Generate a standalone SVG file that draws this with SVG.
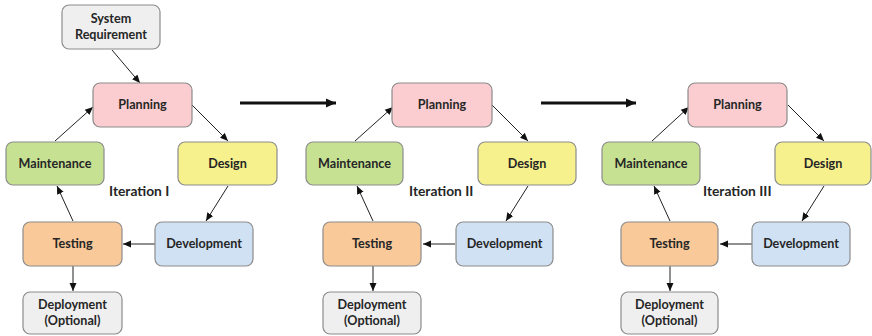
<svg xmlns="http://www.w3.org/2000/svg" width="872" height="336" viewBox="0 0 872 336">
<style>
.box{stroke:#8c8c8c;stroke-width:1.2}
.grey{fill:#efefef}
.pink{fill:#fbcdd0}
.green{fill:#c6e192}
.yellow{fill:#f6f18c}
.orange{fill:#f9c999}
.blue{fill:#d0e1f3}
text{font-family:Lato,"Open Sans","Liberation Sans",sans-serif;font-weight:bold;font-size:12.6px;fill:#262626;text-anchor:middle}
.lbl{font-size:13.8px;text-anchor:start}
.c{stroke:#222;stroke-width:1;fill:none;marker-end:url(#ah)}
.big{stroke:#111;stroke-width:3;fill:none;marker-end:url(#bh)}
</style>
<defs>
<marker id="ah" markerUnits="userSpaceOnUse" markerWidth="9" markerHeight="8" refX="8" refY="4" orient="auto">
<path d="M0,0.5 L8,4 L0,7.5 Z" fill="#111"/>
</marker>
<marker id="bh" markerUnits="userSpaceOnUse" markerWidth="11" markerHeight="10" refX="10" refY="5" orient="auto">
<path d="M0,0.5 L10,5 L0,9.5 Z" fill="#111"/>
</marker>
</defs>
<rect width="872" height="336" fill="#ffffff"/>

<g id="connectors">
<path class="c" d="M112,50 L140,83"/>
<path class="c" d="M192,105 L228,141"/>
<path class="c" d="M228,186 L206,221"/>
<path class="c" d="M155,244 L123,244"/>
<path class="c" d="M73,221 L57,186"/>
<path class="c" d="M55,141 L93,107"/>
<path class="c" d="M73,266 L73,291"/>

<path class="c" d="M492,105 L528,141"/>
<path class="c" d="M528,186 L506,221"/>
<path class="c" d="M455,244 L423,244"/>
<path class="c" d="M373,221 L357,186"/>
<path class="c" d="M355,141 L393,107"/>
<path class="c" d="M373,266 L373,291"/>

<path class="c" d="M788,105 L824,141"/>
<path class="c" d="M824,186 L802,221"/>
<path class="c" d="M752,244 L720,244"/>
<path class="c" d="M670,221 L654,186"/>
<path class="c" d="M652,141 L689,107"/>
<path class="c" d="M670,266 L670,291"/>

<path class="big" d="M240,103 L336,103"/>
<path class="big" d="M541,103 L636,103"/>
</g>

<g id="sysreq"><rect class="box grey" x="62" y="5" width="98" height="44" rx="7"/><text x="111" y="23">System</text><text x="111" y="39">Requirement</text></g>

<g id="planning-1"><rect class="box pink" x="93" y="83" width="99" height="44" rx="7"/><text x="142.5" y="109">Planning</text></g>
<g id="maintenance-1"><rect class="box green" x="6" y="142" width="98" height="43" rx="7"/><text x="55" y="167.5">Maintenance</text></g>
<g id="design-1"><rect class="box yellow" x="178" y="142" width="99" height="43" rx="7"/><text x="227.5" y="167.5">Design</text></g>
<g id="testing-1"><rect class="box orange" x="23" y="222" width="99" height="44" rx="7"/><text x="72.5" y="248">Testing</text></g>
<g id="development-1"><rect class="box blue" x="155" y="222" width="98" height="44" rx="7"/><text x="204" y="248">Development</text></g>
<g id="deployment-1"><rect class="box grey" x="23" y="292" width="99" height="42" rx="7"/><text x="72.5" y="309">Deployment</text><text x="72.5" y="325">(Optional)</text></g>
<g id="iteration-1"><text class="lbl" x="109" y="196">Iteration I</text></g>

<g id="planning-2"><rect class="box pink" x="392" y="83" width="100" height="44" rx="7"/><text x="442" y="109">Planning</text></g>
<g id="maintenance-2"><rect class="box green" x="306" y="142" width="97" height="43" rx="7"/><text x="354.5" y="167.5">Maintenance</text></g>
<g id="design-2"><rect class="box yellow" x="478" y="142" width="98" height="43" rx="7"/><text x="527" y="167.5">Design</text></g>
<g id="testing-2"><rect class="box orange" x="323" y="222" width="98" height="44" rx="7"/><text x="372" y="248">Testing</text></g>
<g id="development-2"><rect class="box blue" x="456" y="222" width="97" height="44" rx="7"/><text x="504.5" y="248">Development</text></g>
<g id="deployment-2"><rect class="box grey" x="323" y="292" width="98" height="42" rx="7"/><text x="372" y="309">Deployment</text><text x="372" y="325">(Optional)</text></g>
<g id="iteration-2"><text class="lbl" x="409" y="196">Iteration II</text></g>

<g id="planning-3"><rect class="box pink" x="688" y="83" width="99" height="44" rx="7"/><text x="737.5" y="109">Planning</text></g>
<g id="maintenance-3"><rect class="box green" x="602" y="142" width="98" height="43" rx="7"/><text x="651" y="167.5">Maintenance</text></g>
<g id="design-3"><rect class="box yellow" x="775" y="142" width="96" height="43" rx="7"/><text x="823" y="167.5">Design</text></g>
<g id="testing-3"><rect class="box orange" x="621" y="222" width="97" height="44" rx="7"/><text x="669.5" y="248">Testing</text></g>
<g id="development-3"><rect class="box blue" x="752" y="222" width="98" height="44" rx="7"/><text x="801" y="248">Development</text></g>
<g id="deployment-3"><rect class="box grey" x="621" y="292" width="97" height="42" rx="7"/><text x="669.5" y="309">Deployment</text><text x="669.5" y="325">(Optional)</text></g>
<g id="iteration-3"><text class="lbl" x="703" y="196">Iteration III</text></g>
</svg>
